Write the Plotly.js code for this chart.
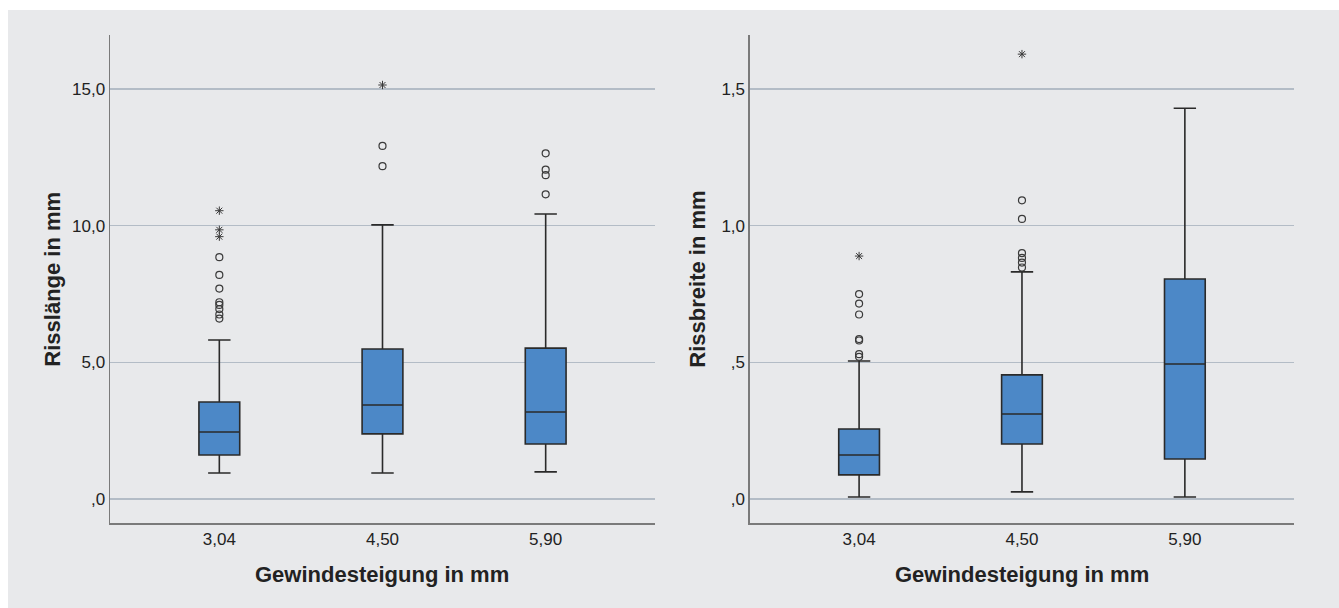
<!DOCTYPE html>
<html><head><meta charset="utf-8">
<script src="https://cdn.plot.ly/plotly-3.0.1.min.js"></script>
<style>html,body{margin:0;padding:0;background:#fff;} #chart{position:absolute;left:8px;top:10px;width:1331px;height:598px;}</style>
</head><body><div id="chart"></div>
<script>
// Categories (Gewindesteigung in mm)
const categories = ['3,04', '4,50', '5,90'];

// Risslänge in mm — box statistics
const laengeLowerFence = [0.95, 0.95, 0.99];
const laengeQ1 = [1.61, 2.38, 2.01];
const laengeMedian = [2.45, 3.44, 3.18];
const laengeQ3 = [3.55, 5.49, 5.52];
const laengeUpperFence = [5.82, 10.03, 10.43];
// Risslänge outliers (circles) and extremes (stars)
const laengeCircleX = ['3,04','3,04','3,04','3,04','3,04','3,04','3,04','3,04','4,50','4,50','5,90','5,90','5,90','5,90'];
const laengeCircleY = [8.85, 8.2, 7.7, 7.2, 7.1, 6.95, 6.75, 6.6, 12.92, 12.18, 12.65, 12.05, 11.85, 11.15];
const laengeStarX = ['3,04','3,04','3,04','4,50'];
const laengeStarY = [10.55, 9.85, 9.6, 15.15];

// Rissbreite in mm — box statistics
const breiteLowerFence = [0.007, 0.026, 0.007];
const breiteQ1 = [0.088, 0.201, 0.146];
const breiteMedian = [0.161, 0.311, 0.494];
const breiteQ3 = [0.256, 0.454, 0.805];
const breiteUpperFence = [0.505, 0.831, 1.43];
// Rissbreite outliers (circles) and extremes (stars)
const breiteCircleX = ['3,04','3,04','3,04','3,04','3,04','3,04','3,04','4,50','4,50','4,50','4,50','4,50','4,50'];
const breiteCircleY = [0.75, 0.715, 0.675, 0.585, 0.58, 0.53, 0.52, 1.093, 1.025, 0.90, 0.882, 0.865, 0.847];
const breiteStarX = ['3,04','4,50'];
const breiteStarY = [0.889, 1.628];

// Tick labels
const laengeTickVals = [0, 5, 10, 15];
const laengeTickText = [',0', '5,0', '10,0', '15,0'];
const breiteTickVals = [0, 0.5, 1.0, 1.5];
const breiteTickText = [',0', ',5', '1,0', '1,5'];

const boxFill = 'rgb(76,136,199)';
const lineCol = '#2a2a2a';
const ptCol = '#3a3a3a';

function boxTrace(xa, ya, lf, q1, med, q3, uf) {
  return {
    type: 'box', xaxis: xa, yaxis: ya, x: categories,
    lowerfence: lf, q1: q1, median: med, q3: q3, upperfence: uf,
    boxpoints: false, width: 0.25, whiskerwidth: 0.55,
    fillcolor: boxFill, line: {color: lineCol, width: 1.6},
    showlegend: false, hoverinfo: 'skip'
  };
}
function ptTrace(xa, ya, xs, ys, sym, size, lw) {
  return {
    type: 'scatter', mode: 'markers', xaxis: xa, yaxis: ya, x: xs, y: ys,
    marker: {symbol: sym, size: size, color: ptCol, line: {color: ptCol, width: lw}},
    showlegend: false, hoverinfo: 'skip'
  };
}

const data = [
  boxTrace('x', 'y', laengeLowerFence, laengeQ1, laengeMedian, laengeQ3, laengeUpperFence),
  ptTrace('x', 'y', laengeCircleX, laengeCircleY, 'circle-open', 7, 1.2),
  ptTrace('x', 'y', laengeStarX, laengeStarY, 'asterisk-open', 7, 1),
  boxTrace('x2', 'y2', breiteLowerFence, breiteQ1, breiteMedian, breiteQ3, breiteUpperFence),
  ptTrace('x2', 'y2', breiteCircleX, breiteCircleY, 'circle-open', 7, 1.2),
  ptTrace('x2', 'y2', breiteStarX, breiteStarY, 'asterisk-open', 7, 1)
];

const font = {family: 'Liberation Sans, Arial, sans-serif', color: '#222'};
const xCommon = {
  type: 'category', categoryorder: 'array', categoryarray: categories,
  range: [-0.67, 2.67], showline: true, linecolor: '#7a7a7a', linewidth: 1.5,
  showgrid: false, zeroline: false, ticks: '', tickfont: {size: 17, family: font.family, color: '#222'},
  fixedrange: true, automargin: false
};
const yCommon = {
  showline: true, linecolor: '#7a7a7a', linewidth: 1.5, showgrid: true,
  gridcolor: '#b3bcc6', gridwidth: 1.3, zeroline: false, ticks: '',
  tickfont: {size: 17, family: font.family, color: '#222'}, fixedrange: true, automargin: false
};

const layout = {
  width: 1331, height: 598,
  paper_bgcolor: '#e8e9eb', plot_bgcolor: '#e8e9eb',
  margin: {l: 102, r: 45, t: 25, b: 85},
  font: font,
  xaxis: Object.assign({}, xCommon, {domain: [0, 0.4603], anchor: 'y'}),
  xaxis2: Object.assign({}, xCommon, {domain: [0.5405, 1], anchor: 'y2'}),
  yaxis: Object.assign({}, yCommon, {range: [-0.88, 16.98], tickvals: laengeTickVals, ticktext: laengeTickText, anchor: 'x'}),
  yaxis2: Object.assign({}, yCommon, {range: [-0.088, 1.698], tickvals: breiteTickVals, ticktext: breiteTickText, anchor: 'x2'}),
  annotations: [
    {text: '<b>Gewindesteigung in mm</b>', xref: 'x domain', yref: 'paper', x: 0.5, y: -0.105, yanchor: 'middle', showarrow: false, font: {size: 22, color: '#222'}},
    {text: '<b>Gewindesteigung in mm</b>', xref: 'x2 domain', yref: 'paper', x: 0.5, y: -0.105, yanchor: 'middle', showarrow: false, font: {size: 22, color: '#222'}},
    {text: '<b>Risslänge in mm</b>', xref: 'x domain', yref: 'y domain', x: -0.107, y: 0.5, xanchor: 'center', yanchor: 'middle', textangle: -90, showarrow: false, font: {size: 22, color: '#222'}},
    {text: '<b>Rissbreite in mm</b>', xref: 'x2 domain', yref: 'y2 domain', x: -0.098, y: 0.5, xanchor: 'center', yanchor: 'middle', textangle: -90, showarrow: false, font: {size: 22, color: '#222'}}
  ]
};

Plotly.newPlot('chart', data, layout, {staticPlot: true, displayModeBar: false});
</script></body></html>
